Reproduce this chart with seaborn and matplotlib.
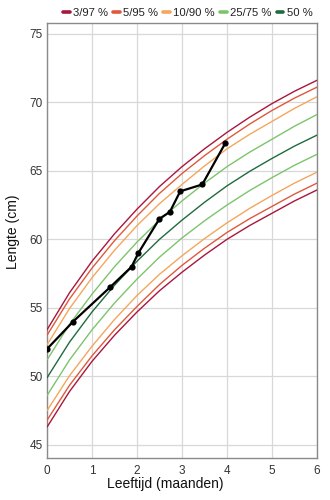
import matplotlib
matplotlib.use("Agg")
import matplotlib.pyplot as plt
from matplotlib.lines import Line2D
import pandas as pd
import seaborn as sns

# Reference length-for-age percentiles (cm) at half-month steps
months = [0, 0.5, 1, 1.5, 2, 2.5, 3, 3.5, 4, 4.5, 5, 5.5, 6]
p3 = [46.3, 48.9, 51.1, 53.0, 54.7, 56.25, 57.6, 58.85, 60.0, 61.0, 61.9, 62.8, 63.6]
p5 = [46.8, 49.35, 51.5, 53.4, 55.1, 56.7, 58.1, 59.35, 60.5, 61.5, 62.4, 63.3, 64.1]
p10 = [47.5, 50.05, 52.2, 54.15, 55.9, 57.45, 58.8, 60.05, 61.2, 62.25, 63.2, 64.1, 64.9]
p25 = [48.6, 51.2, 53.4, 55.35, 57.1, 58.7, 60.1, 61.35, 62.5, 63.55, 64.5, 65.4, 66.2]
p50 = [49.9, 52.5, 54.7, 56.65, 58.4, 60.0, 61.4, 62.7, 63.9, 64.95, 65.9, 66.8, 67.6]
p75 = [51.2, 53.8, 56.0, 58.0, 59.8, 61.4, 62.8, 64.1, 65.3, 66.35, 67.3, 68.25, 69.1]
p90 = [52.3, 54.95, 57.2, 59.2, 61.0, 62.6, 64.0, 65.35, 66.6, 67.65, 68.6, 69.55, 70.4]
p95 = [53.0, 55.65, 57.9, 59.9, 61.7, 63.35, 64.8, 66.1, 67.3, 68.4, 69.4, 70.3, 71.1]
p97 = [53.4, 56.1, 58.4, 60.4, 62.2, 63.85, 65.3, 66.6, 67.8, 68.9, 69.9, 70.8, 71.6]

# Measured child
child_age = [0, 0.58, 1.4, 1.88, 2.03, 2.5, 2.73, 2.96, 3.45, 3.96]
child_len = [52.0, 54.0, 56.5, 58.0, 59.0, 61.5, 62.0, 63.5, 64.0, 67.0]

band_labels = ["3/97 %", "5/95 %", "10/90 %", "25/75 %", "50 %"]
band_colors = ["#a8173d", "#e0583c", "#f4a65c", "#7cc46c", "#1f6b3d"]

curves = [
    ("p3", "3/97 %", p3), ("p97", "3/97 %", p97),
    ("p5", "5/95 %", p5), ("p95", "5/95 %", p95),
    ("p10", "10/90 %", p10), ("p90", "10/90 %", p90),
    ("p25", "25/75 %", p25), ("p75", "25/75 %", p75),
    ("p50", "50 %", p50),
]
rows = []
for name, band, vals in curves:
    for m, v in zip(months, vals):
        rows.append({"curve": name, "band": band, "month": m, "length": v})
df = pd.DataFrame(rows)
child = pd.DataFrame({"month": child_age, "length": child_len})

sns.set_style("white")
plt.rcParams["font.family"] = ["Liberation Sans", "DejaVu Sans"]

fig = plt.figure(figsize=(3.3, 5.0), dpi=100)
ax = fig.add_axes([0.1424, 0.084, 0.8182, 0.8706])

palette = dict(zip(band_labels, band_colors))
sns.lineplot(data=df, x="month", y="length", hue="band", units="curve",
             estimator=None, palette=palette, hue_order=band_labels,
             linewidth=1.0, legend=False, ax=ax, zorder=3)
sns.lineplot(data=child, x="month", y="length", color="black", linewidth=1.6,
             marker="o", markersize=4.5, markeredgewidth=0, ax=ax, zorder=5)

ax.set_xlim(0, 6)
ax.set_ylim(44.05, 75.8)
ax.set_xticks(range(0, 7))
ax.set_yticks([45, 50, 55, 60, 65, 70, 75])
ax.grid(True, color="#d8d8d8", linewidth=0.9)
ax.set_axisbelow(True)
for s in ax.spines.values():
    s.set_color("#8a8a8a")
    s.set_linewidth(1.0)
ax.tick_params(axis="both", length=0, labelsize=8.5, labelcolor="#333333")
ax.tick_params(axis="y", pad=3)
ax.tick_params(axis="x", pad=5)
ax.set_xlabel("Leeftijd (maanden)", fontsize=10, color="#111111")
ax.set_ylabel("Lengte (cm)", fontsize=10, color="#111111")
ax.xaxis.set_label_coords(0.437, -0.043)
ax.yaxis.set_label_coords(-0.1, 0.519)

handles = [Line2D([], [], color=c, linewidth=2.6) for c in band_colors]
fig.legend(handles, band_labels, loc="upper right", bbox_to_anchor=(0.978, 1.004),
           ncol=5, frameon=False, fontsize=8.1, handlelength=0.6,
           handletextpad=0.3, columnspacing=0.45, labelcolor="#222222")

fig.savefig("out.png", dpi=100)
